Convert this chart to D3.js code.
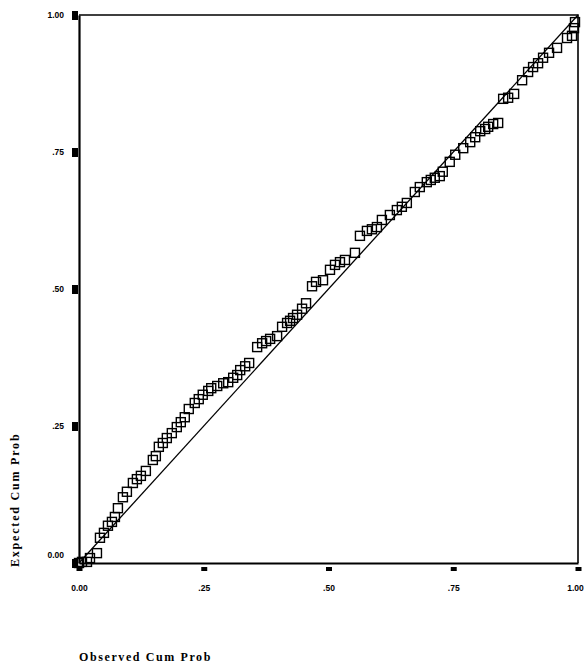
<!DOCTYPE html>
<html>
<head>
<meta charset="utf-8">
<script src="https://cdn.jsdelivr.net/npm/d3@7"></script>
<style>
  body { margin: 0; background: #fff; }
  svg { display: block; }
</style>
</head>
<body>
<div id="chart"></div>
<script>
// observed cum prob (x) and expected cum prob (y)
const observed = [0.000, 0.006, 0.016, 0.022, 0.036, 0.042, 0.050, 0.058, 0.066, 0.072,
  0.078, 0.088, 0.096, 0.108, 0.116, 0.124, 0.134, 0.148, 0.154, 0.160,
  0.168, 0.176, 0.186, 0.196, 0.204, 0.212, 0.220, 0.232, 0.240, 0.248,
  0.259, 0.265, 0.277, 0.289, 0.299, 0.309, 0.317, 0.323, 0.333, 0.341,
  0.357, 0.367, 0.375, 0.383, 0.397, 0.407, 0.417, 0.423, 0.429, 0.437,
  0.447, 0.455, 0.467, 0.475, 0.489, 0.503, 0.513, 0.523, 0.533, 0.553,
  0.563, 0.577, 0.587, 0.597, 0.607, 0.623, 0.637, 0.647, 0.657, 0.673,
  0.683, 0.697, 0.705, 0.713, 0.723, 0.729, 0.743, 0.754, 0.770, 0.784,
  0.794, 0.804, 0.814, 0.820, 0.830, 0.840, 0.850, 0.860, 0.872, 0.888,
  0.900, 0.910, 0.920, 0.930, 0.942, 0.958, 0.978, 0.988, 0.992, 0.994]
const expected = [0.000, 0.002, 0.002, 0.009, 0.018, 0.046, 0.055, 0.068, 0.075, 0.084,
  0.100, 0.120, 0.130, 0.146, 0.153, 0.159, 0.168, 0.188, 0.195, 0.212,
  0.219, 0.228, 0.237, 0.248, 0.257, 0.266, 0.281, 0.292, 0.299, 0.307,
  0.314, 0.319, 0.323, 0.328, 0.330, 0.338, 0.343, 0.352, 0.359, 0.365,
  0.394, 0.401, 0.405, 0.409, 0.414, 0.431, 0.438, 0.442, 0.447, 0.453,
  0.464, 0.474, 0.505, 0.513, 0.516, 0.535, 0.544, 0.549, 0.553, 0.566,
  0.597, 0.606, 0.609, 0.613, 0.626, 0.635, 0.644, 0.650, 0.657, 0.677,
  0.686, 0.695, 0.699, 0.703, 0.706, 0.714, 0.732, 0.745, 0.757, 0.768,
  0.777, 0.788, 0.792, 0.796, 0.801, 0.803, 0.847, 0.849, 0.856, 0.881,
  0.896, 0.905, 0.912, 0.922, 0.931, 0.940, 0.958, 0.962, 0.976, 0.987]

const tickValues = [0, 0.25, 0.5, 0.75, 1]
const tickLabels = ["0.00", ".25", ".50", ".75", "1.00"]

const W = 584, H = 666
const margin = {top: 15, right: 6, bottom: 103, left: 79}

const svg = d3.select("#chart").append("svg")
    .attr("width", W)
    .attr("height", H)

const x = d3.scaleLinear().domain([0, 1]).range([margin.left, W - margin.right])
const y = d3.scaleLinear().domain([0, 1]).range([H - margin.bottom, margin.top])

const data = observed.map((d, i) => ({obs: d, exp: expected[i]}))

// frame (top + right)
svg.append("path")
    .attr("d", `M${x(0)},${y(1)}H${x(1)}V${y(0)}`)
    .attr("fill", "none")
    .attr("stroke", "#000")
    .attr("stroke-width", 1.6)

// x axis
const xAxis = svg.append("g")
    .attr("transform", `translate(0,${y(0)})`)
    .call(d3.axisBottom(x).tickValues(tickValues).tickFormat((d, i) => tickLabels[i]).tickSizeOuter(0))
xAxis.select(".domain").attr("stroke-width", 2.2)
xAxis.selectAll(".tick line")
    .attr("y1", 4).attr("y2", 8)
    .attr("stroke-width", 6)
xAxis.selectAll(".tick text")
    .attr("y", 22)
    .attr("dx", d => d === 1 ? -3 : 0)
    .style("font", "bold 8.5px 'Liberation Sans', Arial, sans-serif")

// y axis
const yAxis = svg.append("g")
    .attr("transform", `translate(${x(0)},0)`)
    .call(d3.axisLeft(y).tickValues(tickValues).tickFormat((d, i) => tickLabels[i]).tickSizeOuter(0))
yAxis.select(".domain").attr("stroke-width", 2.2)
yAxis.selectAll(".tick line")
    .attr("x1", -1).attr("x2", -7)
    .attr("stroke-width", 9)
yAxis.selectAll(".tick text")
    .attr("x", -15)
    .attr("dy", d => d === 0 ? "-0.6em" : "0.32em")
    .style("font", "bold 8.5px 'Liberation Sans', Arial, sans-serif")

// reference diagonal
svg.append("line")
    .attr("x1", x(0)).attr("y1", y(0))
    .attr("x2", x(1)).attr("y2", y(1))
    .attr("stroke", "#000")
    .attr("stroke-width", 1.3)

// points
const s = 9
svg.selectAll("rect.pt")
  .data(data)
  .join("rect")
    .attr("class", "pt")
    .attr("x", d => x(d.obs) - s / 2)
    .attr("y", d => y(d.exp) - s / 2)
    .attr("width", s)
    .attr("height", s)
    .attr("fill", "none")
    .attr("stroke", "#000")
    .attr("stroke-width", 1.4)

// axis titles
svg.append("text")
    .attr("x", x(0))
    .attr("y", 661)
    .style("font", "bold 12px 'Liberation Serif', 'Times New Roman', serif")
    .style("letter-spacing", "1.6px")
    .text("Observed Cum Prob")

svg.append("text")
    .attr("transform", `translate(19,567) rotate(-90)`)
    .style("font", "bold 12px 'Liberation Serif', 'Times New Roman', serif")
    .style("letter-spacing", "1.8px")
    .text("Expected Cum Prob")
</script>
</body>
</html>
